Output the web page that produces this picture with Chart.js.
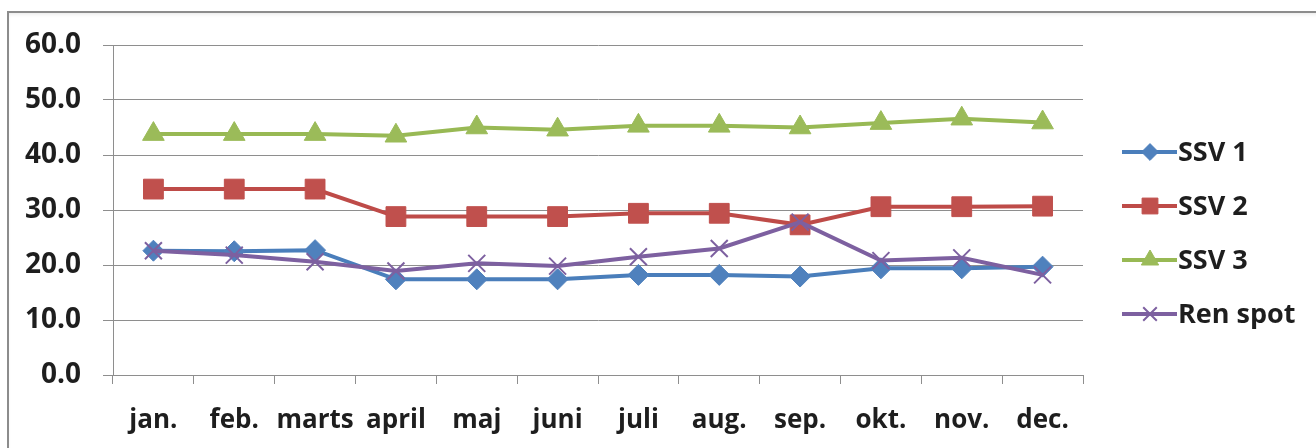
<!DOCTYPE html>
<html>
<head>
<meta charset="utf-8">
<script src="https://cdn.jsdelivr.net/npm/chart.js@4/dist/chart.umd.min.js"></script>
<style>
  html, body { margin: 0; padding: 0; background: #ffffff; overflow: hidden; }
  #wrap { position: relative; width: 1316px; height: 448px; }
  #frame { position: absolute; left: 7px; top: 11px; width: 2000px; height: 2000px;
           border-left: 2px solid #8c8c8c; border-top: 2px solid #8c8c8c; pointer-events: none;
           box-shadow: inset 0 3px 4px -2px rgba(0,0,0,0.10); }
  canvas { position: absolute; left: 0; top: 0; }
</style>
</head>
<body>
<div id="wrap">
  <canvas id="c" width="1316" height="448"></canvas>
  <div id="frame"></div>
</div>
<script>
// ---- data ----
const categories = ['jan.', 'feb.', 'marts', 'april', 'maj', 'juni', 'juli', 'aug.', 'sep.', 'okt.', 'nov.', 'dec.'];
const seriesNames = ['SSV 1', 'SSV 2', 'SSV 3', 'Ren spot'];
const ssv1 = [22.6, 22.5, 22.7, 17.4, 17.4, 17.4, 18.2, 18.2, 17.9, 19.4, 19.4, 19.7];
const ssv2 = [33.8, 33.8, 33.8, 28.8, 28.8, 28.8, 29.4, 29.4, 27.3, 30.6, 30.6, 30.7];
const ssv3 = [43.8, 43.8, 43.8, 43.5, 45.0, 44.6, 45.3, 45.3, 45.0, 45.8, 46.6, 45.9];
const renSpot = [22.6, 21.8, 20.6, 18.9, 20.3, 19.8, 21.5, 23.0, 27.8, 20.8, 21.3, 18.2];
const yTicks = [0, 10, 20, 30, 40, 50, 60];

// ---- styles ----
const FONT = "'Open Sans', 'DejaVu Sans', sans-serif";
const TEXT = '#1e1e1e';
const GRID = '#8e8e8e';

const styles = [
  { line: '#4A7EBB', fill: '#4F81BD', point: 'rectRot', r: 10.5, bw: 1 },
  { line: '#BE4B48', fill: '#C0504D', point: 'rect', r: 14, bw: 1 },
  { line: '#98B954', fill: '#9BBB59', point: 'triangle', r: 12.5, bw: 1 },
  { line: '#7D60A0', fill: '#8064A2', point: 'crossRot', r: 12, bw: 2 }
];
const values = [ssv1, ssv2, ssv3, renSpot];

const datasets = values.map((v, i) => ({
  label: seriesNames[i],
  data: v,
  borderColor: styles[i].line,
  backgroundColor: styles[i].fill,
  borderWidth: 4,
  tension: 0,
  pointStyle: styles[i].point,
  pointRadius: styles[i].r,
  pointHoverRadius: styles[i].r,
  pointBackgroundColor: styles[i].fill,
  pointBorderColor: styles[i].point === 'crossRot' ? styles[i].line : styles[i].fill,
  pointBorderWidth: styles[i].bw,
  order: 3 - i
}));

function drawMarker(ctx, st, x, y, scale) {
  const r = st.r * scale;
  ctx.save();
  ctx.fillStyle = st.fill;
  ctx.strokeStyle = st.point === 'crossRot' ? st.line : st.fill;
  ctx.lineWidth = st.bw;
  ctx.beginPath();
  if (st.point === 'rectRot') {
    ctx.moveTo(x, y - r); ctx.lineTo(x + r, y); ctx.lineTo(x, y + r); ctx.lineTo(x - r, y); ctx.closePath();
    ctx.fill(); ctx.stroke();
  } else if (st.point === 'rect') {
    const s = r * Math.SQRT1_2;
    ctx.rect(x - s, y - s, 2 * s, 2 * s); ctx.fill(); ctx.stroke();
  } else if (st.point === 'triangle') {
    for (let k = 0; k < 3; k++) {
      const a = -Math.PI / 2 + k * 2 * Math.PI / 3;
      const px = x + Math.cos(a) * r, py = y + Math.sin(a) * r;
      if (k === 0) ctx.moveTo(px, py); else ctx.lineTo(px, py);
    }
    ctx.closePath(); ctx.fill(); ctx.stroke();
  } else {
    const d = r * Math.SQRT1_2;
    ctx.moveTo(x - d, y - d); ctx.lineTo(x + d, y + d);
    ctx.moveTo(x + d, y - d); ctx.lineTo(x - d, y + d);
    ctx.stroke();
  }
  ctx.restore();
}

const legendPlugin = {
  id: 'sideLegend',
  afterDraw(chart) {
    const ctx = chart.ctx;
    const x0 = 1122, x1 = 1177, mx = 1150, tx = 1178;
    const y0 = 152, gap = 54;
    seriesNames.forEach((name, i) => {
      const y = y0 + i * gap;
      ctx.save();
      ctx.strokeStyle = styles[i].line;
      ctx.lineWidth = 4;
      ctx.beginPath(); ctx.moveTo(x0, y); ctx.lineTo(x1, y); ctx.stroke();
      ctx.restore();
      drawMarker(ctx, styles[i], mx, y, 0.8);
      ctx.save();
      ctx.fillStyle = TEXT;
      ctx.font = 'bold 27px ' + FONT;
      ctx.textAlign = 'left';
      ctx.textBaseline = 'middle';
      ctx.fillText(name, tx, y + 1);
      ctx.restore();
    });
  }
};

new Chart(document.getElementById('c'), {
  type: 'line',
  data: { labels: categories, datasets: datasets },
  options: {
    responsive: false,
    animation: false,
    devicePixelRatio: 1,
    layout: { padding: { left: 0, right: 233, top: 45, bottom: 0 } },
    plugins: { legend: { display: false }, tooltip: { enabled: false } },
    scales: {
      x: {
        type: 'category',
        offset: true,
        grid: { display: true, drawOnChartArea: false, drawTicks: true, tickLength: 9, offset: true, color: GRID, lineWidth: 1 },
        border: { display: true, color: GRID, width: 1 },
        ticks: { color: TEXT, font: { family: FONT, size: 26, weight: 'bold' }, padding: 21, maxRotation: 0, autoSkip: false },
        afterFit(scale) { scale.height = 73; }
      },
      y: {
        min: yTicks[0],
        max: yTicks[yTicks.length - 1],
        afterBuildTicks(scale) { scale.ticks = yTicks.map(v => ({ value: v })); },
        grid: { display: true, drawTicks: true, tickLength: 10, color: GRID, lineWidth: 1 },
        border: { display: true, color: GRID, width: 1 },
        ticks: { color: TEXT, font: { family: FONT, size: 28, weight: 'bold' }, padding: 22,
                 callback: v => Number(v).toFixed(1) },
        afterFit(scale) { scale.width = 113; }
      }
    }
  },
  plugins: [legendPlugin]
});
</script>
</body>
</html>
